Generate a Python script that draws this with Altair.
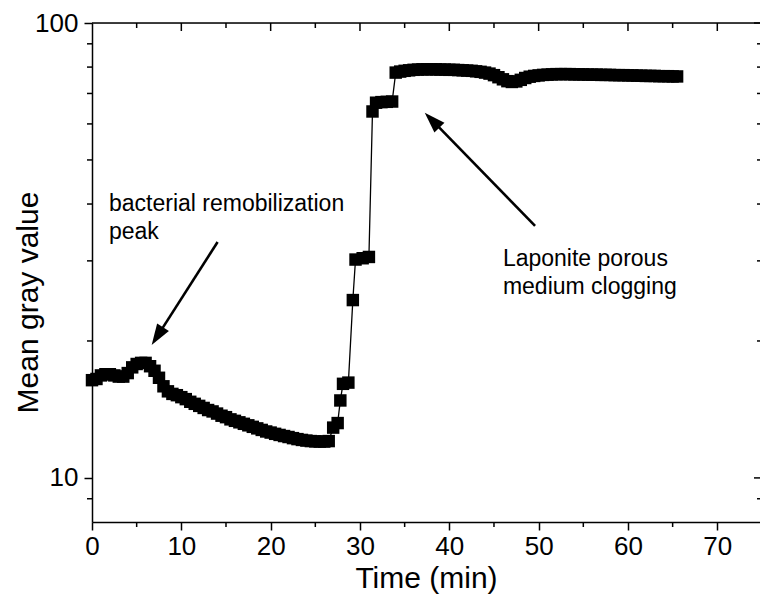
import altair as alt
import pandas as pd

# ---- data ----
time_min = [0.0, 0.5, 1.0, 1.5, 2.0, 2.5, 3.0, 3.5, 4.0, 4.5, 5.0, 5.5, 6.0, 6.5, 7.0, 7.5,
            8.0, 8.5, 9.0, 9.5, 10.0, 10.5, 11.0, 11.5, 12.0, 12.5, 13.0, 13.5, 14.0, 14.5,
            15.0, 15.5, 16.0, 16.5, 17.0, 17.5, 18.0, 18.5, 19.0, 19.5, 20.0, 20.5, 21.0,
            21.5, 22.0, 22.5, 23.0, 23.5, 24.0, 24.5, 25.0, 25.5, 26.0, 26.5,
            27.0, 27.5, 27.8, 28.1, 28.7, 29.2, 29.5, 30.3, 31.0, 31.4, 31.8, 32.4, 33.0, 33.6,
            34.0, 34.5, 35.0, 35.5, 36.0, 36.5, 37.0, 37.5, 38.0, 38.5, 39.0, 39.5, 40.0,
            40.5, 41.0, 41.5, 42.0, 42.5, 43.0, 43.5, 44.0, 44.5, 45.0, 45.5, 46.0, 46.5,
            47.0, 47.5, 48.0, 48.5, 49.0, 49.5, 50.0, 50.5, 51.0, 51.5, 52.0, 52.5, 53.0,
            53.5, 54.0, 54.5, 55.0, 55.5, 56.0, 56.5, 57.0, 57.5, 58.0, 58.5, 59.0, 59.5,
            60.0, 60.5, 61.0, 61.5, 62.0, 62.5, 63.0, 63.5, 64.0, 64.5, 65.0, 65.5]
gray_value = [16.4, 16.5, 16.8, 16.9, 16.9, 16.8, 16.7, 16.7, 17.0, 17.5, 17.8, 17.9, 17.9, 17.6,
              17.2, 16.6, 15.9, 15.5, 15.3, 15.2, 15.05, 14.9, 14.7, 14.55, 14.4, 14.25, 14.1,
              14.0, 13.85, 13.7, 13.6, 13.45, 13.35, 13.25, 13.15, 13.05, 12.95, 12.85, 12.75,
              12.65, 12.58, 12.5, 12.43, 12.36, 12.3, 12.23, 12.17, 12.12, 12.08, 12.05, 12.03,
              12.02, 12.02, 12.05,
              12.9, 13.2, 14.8, 16.1, 16.2, 24.6, 30.2, 30.4, 30.6, 63.9, 66.8, 67.0, 67.1, 67.2,
              77.8, 78.2, 78.5, 78.7, 78.9, 79.0, 79.1, 79.1, 79.1, 79.1, 79.0, 79.0, 78.9,
              78.9, 78.8, 78.7, 78.6, 78.5, 78.3, 78.1, 77.8, 77.4, 76.8, 76.0, 75.2, 74.5,
              74.2, 74.4, 75.0, 75.7, 76.2, 76.5, 76.7, 76.9, 77.0, 77.1, 77.2, 77.2, 77.2,
              77.2, 77.1, 77.1, 77.1, 77.0, 77.0, 77.0, 76.9, 76.9, 76.9, 76.8, 76.8, 76.8,
              76.7, 76.7, 76.6, 76.6, 76.5, 76.5, 76.5, 76.4, 76.4, 76.4, 76.3, 76.3]

x_major = [0, 10, 20, 30, 40, 50, 60, 70]
x_minor = [5, 15, 25, 35, 45, 55, 65]
y_major = [10, 100]
y_minor = [9, 20, 30, 40, 50, 60, 70, 80, 90]

# annotations (data coordinates)
note_text = ["bacterial remobilization\npeak", "Laponite porous\nmedium clogging"]
note_t = [1.9, 46.0]
note_v = [38.7, 29.3]
arrow_tail_t = [14.06, 49.6]
arrow_tail_v = [33.0, 35.8]
arrow_end_t = [7.39, 38.2]
arrow_end_v = [20.6, 60.8]
arrow_tip_t = [6.68, 37.25]
arrow_tip_v = [19.6, 63.5]

# ---- layout ----
W, H = 668, 499
FONT = "Liberation Sans"
xs = alt.Scale(domain=[0, 74.78], nice=False, zero=False)
ys = alt.Scale(type="log", domain=[8, 100], nice=False)

x_axis = alt.Axis(values=x_major, title="Time (min)", grid=False, tickSize=8, tickWidth=1.5,
                  tickColor="black", domainColor="black", domainWidth=1.5,
                  labelFont=FONT, labelFontSize=26, labelColor="black", labelPadding=3,
                  labelFlush=False, titleFont=FONT, titleFontSize=30, titleFontWeight="normal",
                  titleColor="black", titlePadding=4)
y_axis = alt.Axis(values=y_major, format="d", title="Mean gray value", grid=False, tickSize=8,
                  tickWidth=1.5, tickColor="black", domainColor="black", domainWidth=1.5,
                  labelFont=FONT, labelFontSize=26, labelColor="black", labelPadding=6,
                  labelFlush=False, titleFont=FONT, titleFontSize=30, titleFontWeight="normal",
                  titleColor="black", titleX=-49, titleY=279)

def X(field):
    return alt.X(field, type="quantitative", scale=xs, axis=x_axis)

def Y(field):
    return alt.Y(field, type="quantitative", scale=ys, axis=y_axis)

df = pd.DataFrame({"t": time_min, "v": gray_value})
base = alt.Chart(df).encode(x=X("t"), y=Y("v"))
line = base.mark_line(color="black", strokeWidth=1.3)
pts = base.mark_point(shape="square", filled=True, size=155, color="black", opacity=1,
                      strokeWidth=0)

one = pd.DataFrame({"k": [0]})
frame_top = alt.Chart(one).mark_rule(color="black", strokeWidth=1.5).encode(
    x=alt.value(0), x2=alt.value(W + 4), y=alt.value(0))

dxm = pd.DataFrame({"t": x_minor})
dxM = pd.DataFrame({"t": x_major[1:]})
dym = pd.DataFrame({"v": y_minor})
dyM = pd.DataFrame({"v": y_major})

def xrule(d, y1, y2):
    return alt.Chart(d).mark_rule(color="black", strokeWidth=1.5).encode(
        x=X("t"), y=alt.value(y1), y2=alt.value(y2))

def yrule(d, x1, x2):
    return alt.Chart(d).mark_rule(color="black", strokeWidth=1.5).encode(
        y=Y("v"), x=alt.value(x1), x2=alt.value(x2))

RIGHT = 670
ticks = [
    xrule(dxm, H, H + 5),
    xrule(dxm, 0, 5),
    xrule(dxM, 0, 8),
    yrule(dym, -5, 0),
    yrule(dym, RIGHT - 5, RIGHT),
    yrule(dyM, RIGHT - 8, RIGHT),
]

notes = pd.DataFrame({"txt": note_text, "t": note_t, "v": note_v})
text = alt.Chart(notes).mark_text(align="left", baseline="alphabetic", font=FONT, fontSize=23,
                                  color="black", lineBreak="\n", lineHeight=28).encode(
    x=X("t"), y=Y("v"), text="txt:N")

arrows = pd.DataFrame({"t": arrow_tail_t, "v": arrow_tail_v, "t2": arrow_end_t, "v2": arrow_end_v})
shafts = alt.Chart(arrows).mark_rule(color="black", strokeWidth=2.6).encode(
    x=X("t"), y=Y("v"), x2="t2:Q", y2="v2:Q")

HEAD = "M0,0L-0.7,2.1L0.7,2.1Z"
heads = []
for i, ang in enumerate([212.7, 315.6]):
    dh = pd.DataFrame({"t": [arrow_tip_t[i]], "v": [arrow_tip_v[i]]})
    heads.append(alt.Chart(dh).mark_point(shape=HEAD, filled=True, size=400, color="black",
                                          opacity=1, strokeWidth=0, angle=ang).encode(
        x=X("t"), y=Y("v")))

chart = alt.layer(line, pts, frame_top, *ticks, text, shafts, *heads).properties(
    width=W, height=H,
    autosize=alt.AutoSizeParams(type="none"),
    padding={"left": 92, "top": 23, "right": 0, "bottom": 86},
).configure_view(stroke=None).configure(background="white")

chart.save("out.html", embed_options={"renderer": "svg", "actions": False})
